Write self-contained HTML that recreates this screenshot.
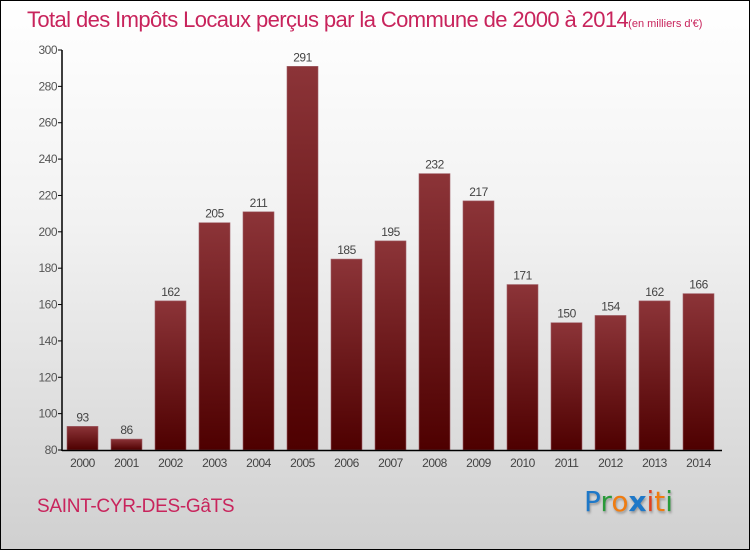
<!DOCTYPE html>
<html><head><meta charset="utf-8"><style>
body{margin:0;}
#root{position:relative;width:748px;height:548px;border:1px solid #000;background:linear-gradient(#ffffff 0%,#f2f2f2 40%,#d0d0d0 100%);overflow:hidden;font-family:"Liberation Sans",sans-serif;}
#title{position:absolute;left:26px;top:6px;color:#c8245c;font-size:22px;letter-spacing:-0.6px;white-space:nowrap;}
#title small{font-size:11px;letter-spacing:0;}
#commune{position:absolute;left:36px;top:495px;color:#c8245c;font-size:19px;letter-spacing:-0.3px;}
#logo{position:absolute;left:583px;top:484px;font-size:28px;font-family:"DejaVu Sans",sans-serif;text-shadow:1px 2px 2px #999;}
</style></head><body>
<div id="root">
<div id="title">Total des Impôts Locaux perçus par la Commune de 2000 à 2014<small>(en milliers d'€)</small></div>
<svg id="chart" width="748" height="548" style="position:absolute;left:0;top:0">
<defs><linearGradient id="g" x1="0" y1="0" x2="0" y2="1"><stop offset="0" stop-color="#8c3438"/><stop offset="1" stop-color="#4e0000"/></linearGradient></defs>
</svg>
<div id="commune">SAINT-CYR-DES-GâTS</div>
<div id="logo"><span style="color:#1e78c8">P</span><span style="color:#2a9a3a">r</span><span style="color:#f07c10">o</span><span style="color:#1e78c8;font-weight:bold">x</span><span style="color:#e04020">i</span><span style="color:#f07c10">t</span><span style="color:#2a9a3a">i</span></div>
</div>
<script>
const categories=["2000","2001","2002","2003","2004","2005","2006","2007","2008","2009","2010","2011","2012","2013","2014"];
const values=[93,86,162,205,211,291,185,195,232,217,171,150,154,162,166];
const ticks=[80,100,120,140,160,180,200,220,240,260,280,300];
const svg=document.getElementById('chart');const NS='http://www.w3.org/2000/svg';
const y0=449,yTop=49,vmin=80,vmax=300;
const y=v=>y0-(v-vmin)*(y0-yTop)/(vmax-vmin);
const x=i=>81.5+i*44;
const F='Liberation Sans, sans-serif';
function mk(t,a,txt){const e=document.createElementNS(NS,t);for(const k in a)e.setAttribute(k,a[k]);if(txt!==undefined)e.textContent=txt;svg.appendChild(e);return e;}
ticks.forEach(t=>{
 const l=mk('line',{x1:57,x2:61,y1:y(t),y2:y(t),stroke:'#000'});
 
 
 const tx=mk('text',{x:56,y:y(t)+4,'text-anchor':'end','font-size':12,fill:'#555','font-family':F,'letter-spacing':'-0.5'},t);
 
 
});
values.forEach((v,i)=>{
 const r=mk('rect',{x:x(i)-15.5,y:y(v),width:31,height:y0-y(v),fill:'url(#g)',stroke:'#a06068','stroke-width':0.6});
 
 
 const vl=mk('text',{x:x(i),y:y(v)-5,'text-anchor':'middle','font-size':12,fill:'#444','font-family':F,'letter-spacing':'-0.5'},v);
 
 
 const cl=mk('text',{x:x(i),y:466,'text-anchor':'middle','font-size':12,fill:'#444','font-family':F,'letter-spacing':'-0.5'},categories[i]);
 
 
});
const ya=mk('line',{x1:61,x2:61,y1:yTop,y2:y0+1,stroke:'#000','stroke-width':1.5});


const xa=mk('line',{x1:61,x2:721,y1:y0+0.5,y2:y0+0.5,stroke:'#000','stroke-width':1.5});


</script>
</body></html>
